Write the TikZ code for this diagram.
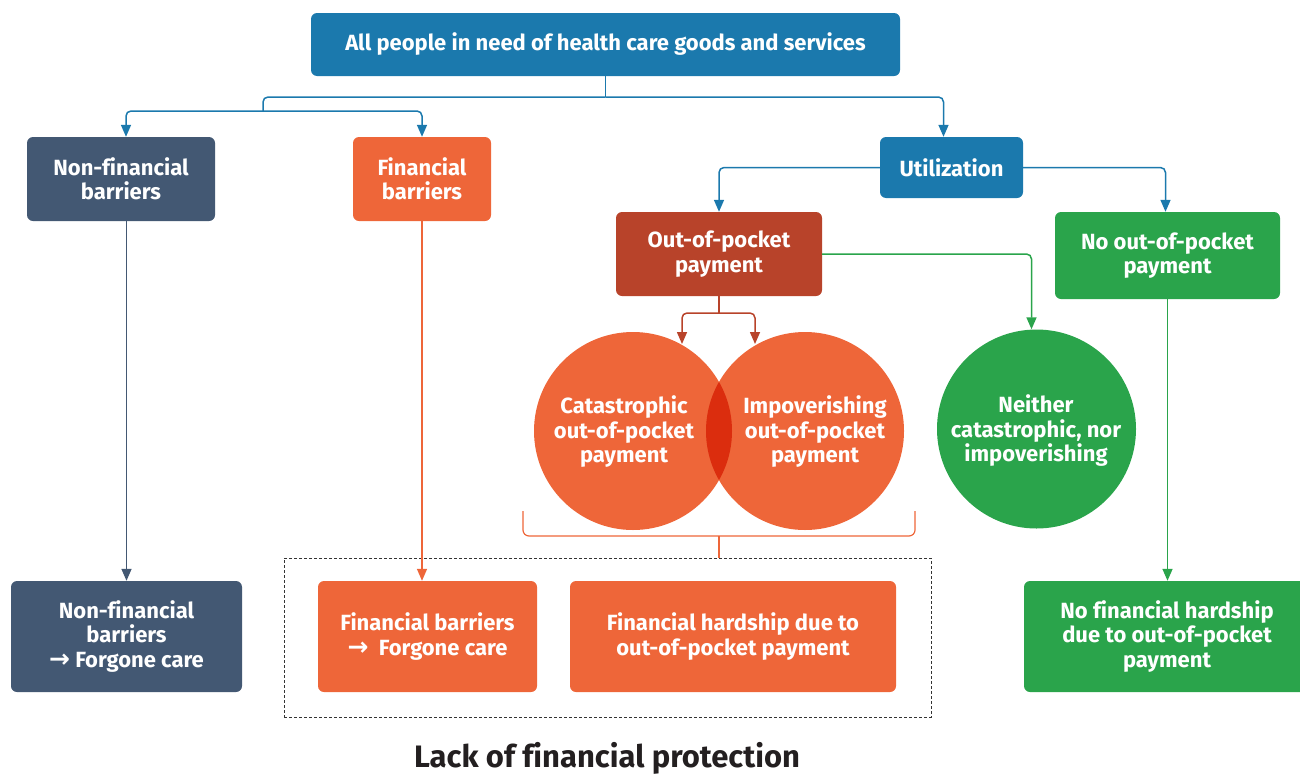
\documentclass[tikz,border=0pt]{standalone}
\usepackage{fontspec}
\setmainfont[Ligatures=NoCommon]{Fira Sans}
\newfontfamily\arr{DejaVu Sans}
\newcommand{\rarr}{{\arr\fontsize{25}{24.5}\selectfont →}}
\usetikzlibrary{arrows.meta,calc}
\definecolor{cblue}{HTML}{1B79AD}
\definecolor{cslate}{HTML}{435873}
\definecolor{corange}{HTML}{EE6639}
\definecolor{cred}{HTML}{B8432A}
\definecolor{cgreen}{HTML}{2AA44B}
\definecolor{clens}{HTML}{DB2D0E}
\definecolor{ctitle}{HTML}{231F20}
\begin{document}
\begin{tikzpicture}[x=1pt,y=-1pt,
  box/.style={rounded corners=6pt, text=white, font=\fontsize{22}{24.5}\selectfont\bfseries, align=center, inner sep=0pt},
  ctext/.style={text=white, font=\fontsize{22}{24.5}\selectfont\bfseries, align=center, inner sep=0pt},
  conn/.style={line width=1.5pt, rounded corners=5pt},
  tip/.style={-{Triangle[length=12pt,width=10pt]}},
]
\useasboundingbox (0,0) rectangle (1300,774);
\clip (0,0) rectangle (1300,774);

% boxes
\node[box, fill=cblue, minimum width=589pt, minimum height=63pt] (top) at (605.5,44.5) {All people in need of health care goods and services};
\node[box, fill=cslate, minimum width=188pt, minimum height=84pt] (nfb) at (121,179) {Non-financial\\barriers};
\node[box, fill=corange, minimum width=138pt, minimum height=84pt] (fb) at (422,179) {Financial\\barriers};
\node[box, fill=cblue, minimum width=143pt, minimum height=61pt] (util) at (951.5,167.5) {Utilization};
\node[box, fill=cred, minimum width=206pt, minimum height=84pt] (oop) at (719,254) {Out-of-pocket\\payment};
\node[box, fill=cgreen, minimum width=225pt, minimum height=87pt] (nooop) at (1167.5,255.5) {No out-of-pocket\\payment};

\node[box, fill=cslate, minimum width=231pt, minimum height=111pt] (nfb2) at (126.5,636.5) {Non-financial\\barriers\\\rarr\ Forgone care};
\node[box, fill=corange, minimum width=219pt, minimum height=111pt] (fb2) at (427.5,636.5) {Financial barriers\\\rarr\ \ Forgone care};
\node[box, fill=corange, minimum width=326pt, minimum height=111pt] (fh) at (733,636.5) {Financial hardship due to\\out-of-pocket payment};
\node[box, fill=cgreen, minimum width=286pt, minimum height=111pt] (nfh) at (1167,636.5) {No financial hardship\\due to out-of-pocket\\payment};

% circles
\node[circle, fill=corange, minimum size=198pt, inner sep=0pt] (c1) at (633,431) {};
\node[circle, fill=corange, minimum size=198pt, inner sep=0pt] (c2) at (805,431) {};
\begin{scope}
  \clip (633,431) circle (99pt);
  \fill[clens] (805,431) circle (99pt);
\end{scope}
\node[circle, fill=cgreen, minimum size=199pt, inner sep=0pt] (c3) at (1036.5,429) {};
\node[ctext] (t1) at (624,432) {Catastrophic\\out-of-pocket\\payment};
\node[ctext] (t2) at (815,432) {Impoverishing\\out-of-pocket\\payment};
\node[ctext] (t3) at (1036,431) {Neither\\catastrophic, nor\\impoverishing};

% dashed box and title
\node[draw=black!80, dash pattern=on 3pt off 2pt, line width=1pt, minimum width=647pt, minimum height=159pt, inner sep=0pt] (dbox) at (607.5,637.5) {};
\node[text=ctitle, font=\fontsize{31}{34}\selectfont\bfseries, inner sep=0pt] (title) at (607,758) {Lack of financial protection};

% top connectors
\coordinate (j1) at (605.5,97);
\coordinate (j2) at (263,97);
\coordinate (j3) at (263,111);
\draw[conn, cblue] (top.south) -- (j1);
\draw[conn, cblue] (j1) -- (j2) -- (j3);
\draw[conn, cblue, tip] (j3) -| ($(nfb.north)+(5,0)$);
\draw[conn, cblue, tip] (j3) -| (fb.north);
\draw[conn, cblue, tip] (j1) -| ($(util.north)+(-8,0)$);

% utilization
\draw[conn, cblue, tip] (util.west) -| (oop.north);
\draw[conn, cblue, tip] (util.east) -| ($(nooop.north)+(-2,0)$);

% out-of-pocket
\coordinate (k) at (719,313);
\coordinate (c1top) at (682,344);
\coordinate (c2top) at (755,344);
\draw[conn, cred] (oop.south) -- (k);
\draw[conn, cred, tip] (k) -| (c1top);
\draw[conn, cred, tip] (k) -| (c2top);
\draw[conn, cgreen, tip] (oop.east) -| ($(c3.north)+(-5,0)$);

% vertical lines
\draw[conn, cslate, tip] (nfb2.north |- nfb.south) -- (nfb2.north);
\draw[conn, corange, tip] (fb.south) -- (fb.south |- fb2.north);
\draw[conn, cgreen, tip] (nooop.south) -- (nooop.south |- nfh.north);

% bracket
\coordinate (b1) at (523,511);
\coordinate (b2) at (523,536);
\coordinate (b3) at (915,536);
\coordinate (b4) at (915,511);
\coordinate (bm) at (719,536);
\draw[line width=1.2pt, corange, rounded corners=6pt] (b1) -- (b2) -- (b3) -- (b4);
\draw[line width=1.2pt, corange] (bm) -- (bm |- dbox.north);
\end{tikzpicture}
\end{document}
